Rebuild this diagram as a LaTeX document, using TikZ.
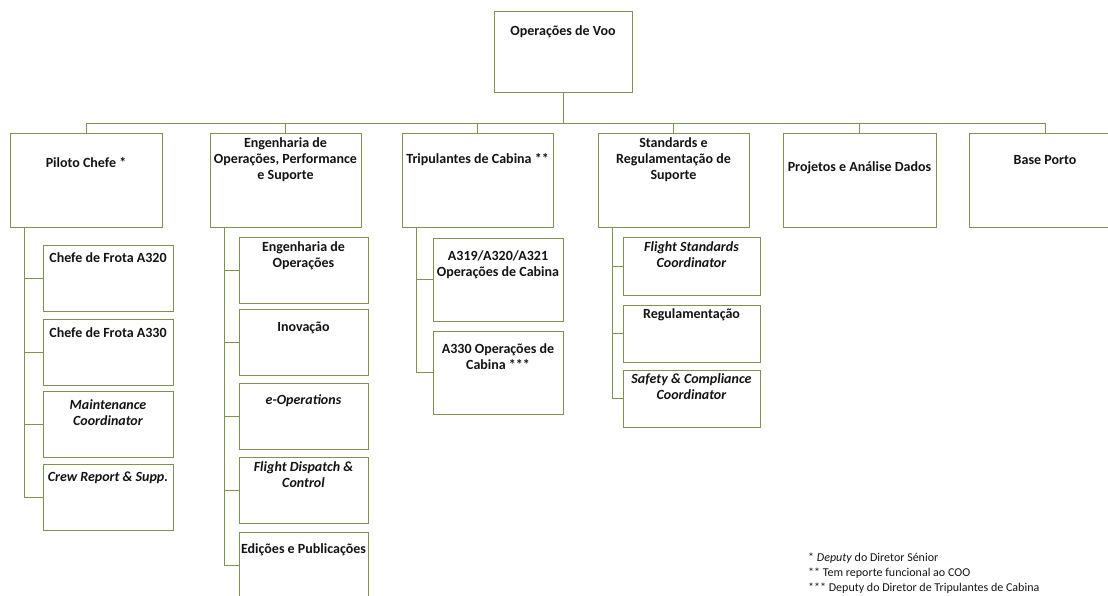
\documentclass[tikz,border=0pt]{standalone}
\usepackage{fontspec}
\setmainfont{Carlito}
\usetikzlibrary{calc}
\definecolor{boxgreen}{RGB}{122,146,82}
\definecolor{txt}{RGB}{20,20,20}
\begin{document}
\begin{tikzpicture}[x=1pt,y=-1pt,
  box/.style={draw=boxgreen, line width=0.95pt, fill=white, inner sep=0pt},
  lvl/.style={box, minimum width=152pt, minimum height=94pt},
  kid/.style={box, minimum height=66pt},
  lbl/.style={font=\fontsize{14}{16}\selectfont\bfseries, text=txt, align=center, inner sep=0pt},
  ilbl/.style={lbl, font=\fontsize{14}{16}\selectfont\bfseries\itshape},
  note/.style={font=\fontsize{12}{14}\selectfont, text=txt, anchor=west, inner sep=0pt},
  conn/.style={draw=boxgreen, line width=0.95pt}]
\useasboundingbox (0,0) rectangle (1108,595);
\clip (0,0) rectangle (1108,595);

% top
\node[box, minimum width=138pt, minimum height=81pt] (top) at (563,51.5) {};
\coordinate (bus) at (563,123);

% level 1
\node[lvl] (pc) at (86,180) {};
\node[lvl, minimum width=151pt] (eng) at (285.5,180) {};
\node[lvl, minimum width=151pt] (trip) at (477.5,180) {};
\node[lvl, minimum width=151pt] (std) at (673.5,180) {};
\node[lvl, minimum width=153pt] (proj) at (859.5,180) {};
\node[lvl] (base) at (1045,180) {};

\foreach \n in {pc,eng,trip,std,proj,base}
  \draw[conn] (top.south) -- (bus) -| (\n.north);

% column 1
\node[kid, minimum width=130pt] (a320) at (108,278) {};
\node[kid, minimum width=130pt] (a330) at (108,352) {};
\node[kid, minimum width=130pt] (maint) at (108,424) {};
\node[kid, minimum width=130pt] (crew) at (108,497) {};
\foreach \n in {a320,a330,maint,crew}
  \draw[conn] ([xshift=15pt]pc.south west) |- (\n.west);

% column 2
\node[kid, minimum width=129pt] (engop) at (303.5,270) {};
\node[kid, minimum width=129pt] (inov) at (303.5,342.5) {};
\node[kid, minimum width=129pt] (eops) at (303.5,416) {};
\node[kid, minimum width=129pt] (fdc) at (303.5,490) {};
\node[kid, minimum width=129pt] (edi) at (303.5,565) {};
\foreach \n in {engop,inov,eops,fdc,edi}
  \draw[conn] ([xshift=15pt]eng.south west) |- (\n.west);

% column 3
\node[box, minimum width=130pt, minimum height=83pt] (cab1) at (498,279.5) {};
\node[box, minimum width=130pt, minimum height=83pt] (cab2) at (498,372.5) {};
\foreach \n in {cab1,cab2}
  \draw[conn] ([xshift=15pt]trip.south west) |- (\n.west);

% column 4
\node[box, minimum width=137pt, minimum height=58pt] (fsc) at (691.5,266) {};
\node[box, minimum width=137pt, minimum height=57pt] (reg) at (691.5,333.5) {};
\node[box, minimum width=137pt, minimum height=57pt] (scc) at (691.5,398.5) {};
\foreach \n in {fsc,reg,scc}
  \draw[conn] ([xshift=15pt]std.south west) |- (\n.west);

% texts
\node[lbl] (ttop) at (563,32) {Operações de Voo};
\node[lbl] (tpc) at (86,163) {Piloto Chefe *};
\node[lbl] (teng) at (285.5,160) {Engenharia de\\Operações, Performance\\e Suporte};
\node[lbl] (ttrip) at (477.5,160) {Tripulantes de Cabina **};
\node[lbl] (tstd) at (673.5,160) {Standards e\\Regulamentação de\\Suporte};
\node[lbl] (tproj) at (859.5,168) {Projetos e Análise Dados};
\node[lbl] (tbase) at (1045,160) {Base Porto};

\node[lbl] (ta320) at (108,258) {Chefe de Frota A320};
\node[lbl] (ta330) at (108,333) {Chefe de Frota A330};
\node[ilbl] (tmaint) at (108,412.5) {Maintenance\\Coordinator};
\node[ilbl] (tcrew) at (108,478) {Crew Report \& Supp.};

\node[lbl] (tengop) at (303.5,255.5) {Engenharia de\\Operações};
\node[lbl] (tinov) at (303.5,328) {Inovação};
\node[ilbl] (teops) at (303.5,401) {e-Operations};
\node[ilbl] (tfdc) at (303.5,474.5) {Flight Dispatch \&\\Control};
\node[lbl] (tedi) at (303.5,550) {Edições e Publicações};

\node[lbl] (tcab1) at (498,265) {A319/A320/A321\\Operações de Cabina};
\node[lbl] (tcab2) at (498,356.5) {A330 Operações de\\Cabina ***};

\node[ilbl] (tfsc) at (691.5,255) {Flight Standards\\Coordinator};
\node[lbl] (treg) at (691.5,315) {Regulamentação};
\node[ilbl] (tscc) at (691.5,387) {Safety \& Compliance\\Coordinator};

% legend
\node[note] (n1) at (808,558) {* \textit{Deputy} do Diretor Sénior};
\node[note] (n2) at (808,573) {** Tem reporte funcional ao COO};
\node[note] (n3) at (808,588) {*** Deputy do Diretor de Tripulantes de Cabina};
\end{tikzpicture}
\end{document}
